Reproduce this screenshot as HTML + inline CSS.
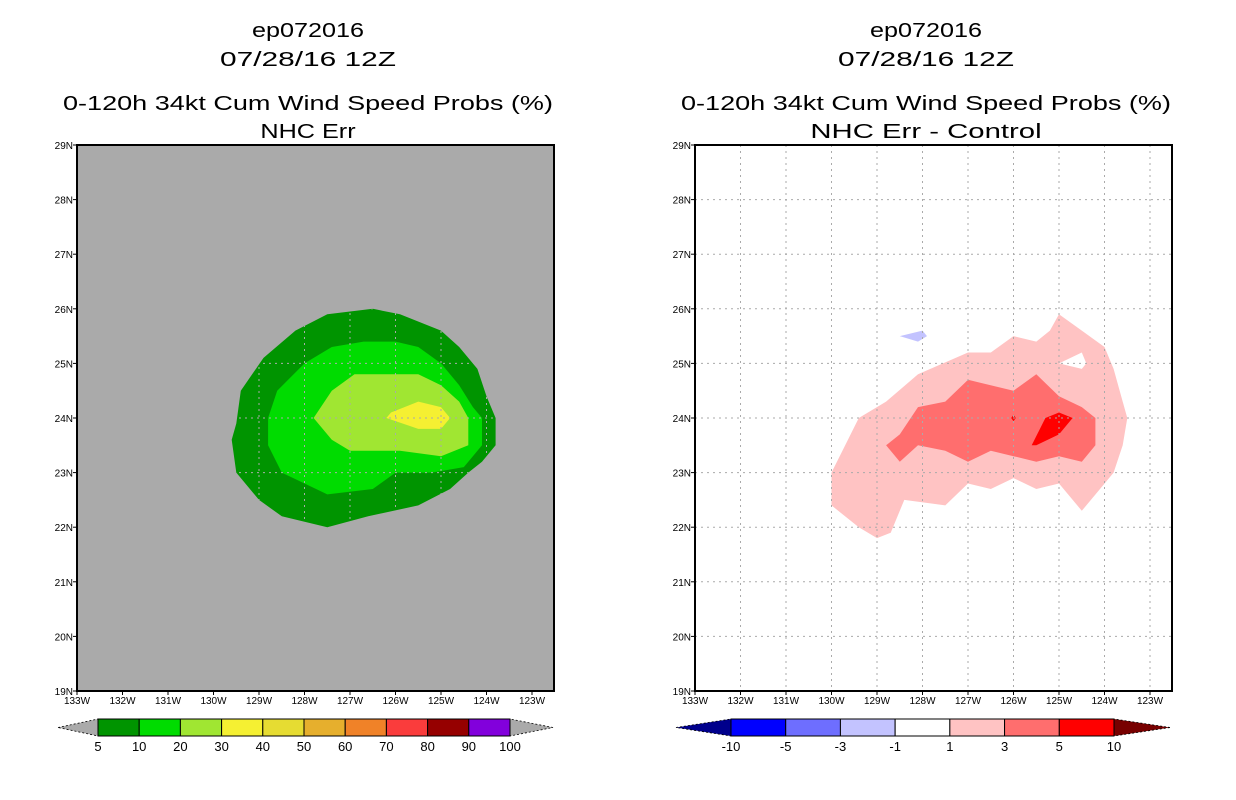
<!DOCTYPE html>
<html><head><meta charset="utf-8"><style>
html,body{margin:0;padding:0;background:#fff;}
svg{display:block;font-family:"Liberation Sans",sans-serif;}
</style></head><body>
<svg id="chart" width="1236" height="800" viewBox="0 0 1236 800" xmlns="http://www.w3.org/2000/svg"></svg>
<script>
// ---- data (degrees West longitude, degrees North latitude) ----
const lonTicks = [133,132,131,130,129,128,127,126,125,124,123];
const latTicks = [29,28,27,26,25,24,23,22,21,20,19];
const leftLevels = ["5","10","20","30","40","50","60","70","80","90","100"];
const leftColors = ["#009400","#00dc00","#a0e632","#f5f032","#e6dc32","#e6af2d","#f08228","#fa3c3c","#960000","#8200dc"];
const rightLevels = ["-10","-5","-3","-1","1","3","5","10"];
const rightColors = ["#0000ff","#6e6eff","#c3c3ff","#ffffff","#ffc3c3","#ff6e6e","#ff0000"];
const prob5 = [[127.5,25.9],[126.5,26.0],[125.9,25.9],[125.0,25.6],[124.6,25.3],[124.2,24.9],[124.0,24.4],[123.8,24.0],[123.8,23.5],[124.1,23.2],[124.4,23.0],[124.8,22.7],[125.5,22.4],[126.6,22.2],[127.5,22.0],[128.5,22.2],[129.0,22.5],[129.5,23.0],[129.6,23.6],[129.5,23.9],[129.4,24.5],[128.9,25.1],[128.2,25.6]];
const prob10 = [[126.7,25.4],[126.0,25.4],[125.5,25.3],[125.0,25.0],[124.6,24.6],[124.3,24.2],[124.1,24.0],[124.1,23.5],[124.3,23.3],[124.5,23.1],[125.2,23.0],[126.0,23.0],[126.5,22.7],[127.5,22.6],[128.5,23.0],[128.8,23.5],[128.8,24.0],[128.6,24.5],[128.0,25.0],[127.4,25.3]];
const prob20 = [[126.9,24.8],[125.5,24.8],[125.0,24.6],[124.6,24.3],[124.4,24.0],[124.4,23.5],[125.0,23.3],[125.9,23.4],[127.0,23.4],[127.4,23.6],[127.8,24.0],[127.4,24.5]];
const prob30 = [[126.1,24.1],[125.5,24.3],[125.0,24.2],[124.8,24.0],[125.0,23.8],[125.5,23.8],[126.2,24.0]];
const diff1 = [[125.0,25.9],[124.5,25.6],[124.0,25.3],[123.8,24.9],[123.6,24.3],[123.5,24.0],[123.6,23.5],[123.8,23.0],[124.1,22.7],[124.5,22.3],[124.8,22.6],[125.0,22.8],[125.5,22.7],[126.0,22.9],[126.5,22.7],[127.0,22.8],[127.5,22.4],[128.4,22.5],[128.7,21.9],[129.0,21.8],[129.4,22.0],[130.0,22.4],[130.0,23.0],[129.7,23.5],[129.4,24.0],[128.8,24.3],[128.1,24.8],[127.0,25.2],[126.5,25.2],[126.0,25.5],[125.5,25.4],[125.2,25.6]];
const diffHole = [[125.0,25.0],[124.5,25.2],[124.4,25.0],[124.5,24.9]];
const diff3 = [[127.0,24.7],[126.0,24.5],[125.5,24.8],[125.0,24.4],[124.5,24.2],[124.2,24.0],[124.2,23.5],[124.5,23.2],[125.0,23.3],[125.5,23.2],[126.0,23.3],[126.5,23.4],[127.0,23.2],[127.5,23.4],[128.1,23.5],[128.5,23.2],[128.8,23.5],[128.5,23.7],[128.1,24.2],[127.5,24.3]];
const diff5 = [[125.6,23.5],[125.3,24.0],[125.0,24.1],[124.7,24.0],[125.0,23.7],[125.5,23.5]];
const diff5dot = [[126.05,24.0],[126.0,24.06],[125.95,24.0],[126.0,23.94]];
const diffNeg = [[128.5,25.5],[128.0,25.6],[127.9,25.5],[128.1,25.4]];

// ---- layout ----
const NS="http://www.w3.org/2000/svg";
const svg=document.getElementById('chart');
const PW=477, PH=546, TOP=145;
function mk(tag,attrs,parent){const e=document.createElementNS(NS,tag);for(const k in attrs)e.setAttribute(k,attrs[k]);(parent||svg).appendChild(e);return e;}
function xs(x0){return w=>x0+(133-w)*45.5;}
function ys(lat){return TOP+(29-lat)*54.6;}
function pts(arr,X){return arr.map(p=>X(p[0]).toFixed(1)+','+ys(p[1]).toFixed(1)).join(' ');}
function txt(s,x,y,size,anchor,name,len){const t=mk('text',{x:x,y:y,'font-size':size,'text-anchor':anchor||'middle',fill:'#000'});if(len){t.setAttribute('textLength',len);t.setAttribute('lengthAdjust','spacingAndGlyphs');}t.textContent=s;return t;}

function panel(x0,bg,title2,side){
  const X=xs(x0);
  const g=mk('g',{});
  
  
  const cx=x0+231;
  txt('ep072016',cx,37,20,'middle',side+'-storm-id',112);
  txt('07/28/16 12Z',cx,66,20,'middle',side+'-date',176);
  txt('0-120h 34kt Cum Wind Speed Probs (%)',cx,110,20,'middle',side+'-title',490);
  txt(title2,cx,138,20,'middle',side+'-subtitle',title2.length*13.6);
  const bgr=mk('rect',{x:x0,y:TOP,width:PW,height:PH,fill:bg},g);
  
  
  return {g,X};
}
function grid(P,x0,side,clip){
  const gg=mk('g',clip?{'clip-path':'url(#'+clip+')'}:{},P.g);
  lonTicks.forEach(w=>{const x=P.X(w);if(x>x0+1&&x<x0+PW-1){const l=mk('line',{x1:x,x2:x,y1:TOP,y2:TOP+PH,stroke:'#aaaaaa','stroke-dasharray':'2,4'},gg);}});
  latTicks.forEach(la=>{const y=ys(la);if(y>TOP+1&&y<TOP+PH-1){const l=mk('line',{x1:x0,x2:x0+PW,y1:y,y2:y,stroke:'#aaaaaa','stroke-dasharray':'2,4'},gg);}});
}
function axes(P,x0,side){
  const b=mk('rect',{x:x0,y:TOP,width:PW,height:PH,fill:'none',stroke:'#000','stroke-width':2},P.g);
  
  lonTicks.forEach(w=>{const x=P.X(w);mk('line',{x1:x,x2:x,y1:TOP+PH,y2:TOP+PH+4,stroke:'#000'},P.g);txt(w+'W',x,TOP+PH+13,10,'middle',side+'-x-tick-label');});
  latTicks.forEach(la=>{const y=ys(la);mk('line',{x1:x0-4,x2:x0,y1:y,y2:y,stroke:'#000'},P.g);txt(la+'N',x0-4,y+4,10,'end',side+'-y-tick-label');});
}
function poly(P,arr,fill,name){const p=mk('polygon',{points:pts(arr,P.X),fill:fill},P.g);return p;}

// left panel
const L=panel(77,'#aaaaaa','NHC Err','left');
const defs=mk('defs',{});
const cp=mk('clipPath',{id:'leftclip'},defs);
mk('polygon',{points:pts(prob5,L.X)},cp);
poly(L,prob5,leftColors[0],'prob-5-10');
poly(L,prob10,leftColors[1],'prob-10-20');
poly(L,prob20,leftColors[2],'prob-20-30');
poly(L,prob30,leftColors[3],'prob-30-40');
grid(L,77,'left','leftclip');axes(L,77,'left');

// right panel
const R=panel(695,'#ffffff','NHC Err - Control','right');
poly(R,diff1,rightColors[4],'diff-1-3');
poly(R,diffHole,'#ffffff','diff-hole');
poly(R,diff3,rightColors[5],'diff-3-5');
poly(R,diff5,rightColors[6],'diff-5-10');
poly(R,diff5dot,rightColors[6],'diff-5-10-dot');
poly(R,diffNeg,rightColors[2],'diff-neg-1-3');
grid(R,695,'right');axes(R,695,'right');

// colorbars
function colorbar(x0,x1,tipL,tipR,colors,labels,lcol,rcol,side){
  const g=mk('g',{});
  const y0=719,y1=736,ym=727.5,n=colors.length,w=(x1-x0)/n;
  mk('polygon',{points:`${tipL},${ym} ${x0},${y0} ${x0},${y1}`,fill:lcol,stroke:'#000','stroke-width':0.8,'stroke-dasharray':'2,2'},g);
  mk('polygon',{points:`${tipR},${ym} ${x1},${y0} ${x1},${y1}`,fill:rcol,stroke:'#000','stroke-width':0.8,'stroke-dasharray':'2,2'},g);
  colors.forEach((c,i)=>{const r=mk('rect',{x:x0+i*w,y:y0,width:w,height:y1-y0,fill:c,stroke:'#000','stroke-width':1},g);});
  labels.forEach((s,i)=>txt(s,x0+i*w,751,13,'middle',side+'-colorbar-label'));
}
colorbar(98,510,58,553,leftColors,leftLevels,'#aaaaaa','#aaaaaa','left');
colorbar(731,1114,676,1170,rightColors,rightLevels,'#00008c','#780000','right');
</script>
</body></html>
